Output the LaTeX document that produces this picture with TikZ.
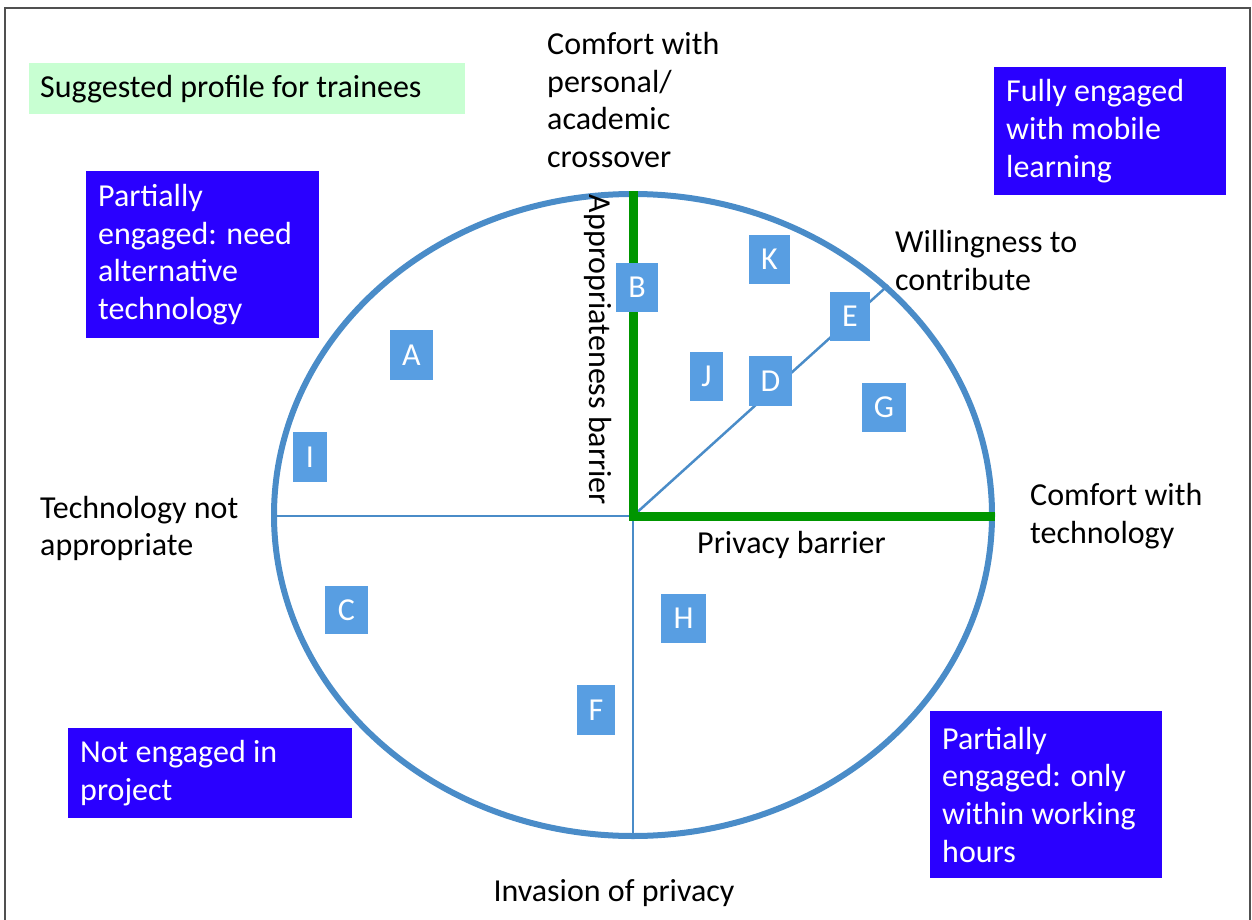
\documentclass[tikz,border=0pt]{standalone}
\usepackage{fontspec}
\setmainfont{Carlito}
\usetikzlibrary{shapes.geometric}
\definecolor{darkblue}{RGB}{42,0,255}
\definecolor{lblue}{RGB}{88,158,226}
\definecolor{ringblue}{RGB}{74,140,200}
\definecolor{bargreen}{RGB}{0,150,0}
\definecolor{palegreen}{RGB}{200,255,210}
\definecolor{framegray}{RGB}{80,80,80}
\begin{document}
\begin{tikzpicture}[x=1pt,y=-1pt,
  every node/.style={font=\fontsize{32}{37.7}\selectfont},
  lbox/.style={fill=lblue, text=white, inner sep=0pt, minimum height=49pt},
  dbox/.style={fill=darkblue, text=white, anchor=north west, align=flush left, inner xsep=12pt, inner ysep=0pt},
  lab/.style={anchor=west, align=flush left, inner sep=0pt, text=black},
  thin/.style={draw=ringblue, line width=2.5pt},
  barrier/.style={draw=bargreen, line width=9pt},
]
\useasboundingbox (0,0) rectangle (1252,920);
\draw[framegray, line width=1.5pt] (5,922) -- (5,8) -- (1250,8) -- (1250,922);

% ring and axes
\coordinate (O) at (633,516);
\node[ellipse, draw=ringblue, line width=6pt, minimum width=718pt, minimum height=642pt, inner sep=0pt] (ring) at (633,515) {};
\draw[thin] (ring.west |- O) -- (O);
\draw[thin] (O) -- (ring.south);
\draw[thin] (O) -- (ring.42);
\draw[barrier] (ring.north) -- (O) -- (ring.east |- O);

% letter boxes
\node[lbox, minimum width=43pt, minimum height=50pt] (A) at (411.5,355) {A};
\node[lbox, minimum width=42pt] (B) at (637,287.5) {B};
\node[lbox, minimum width=41pt] (K) at (769.5,259.5) {K};
\node[lbox, minimum width=40pt] (E) at (850,316.5) {E};
\node[lbox, minimum width=33pt] (J) at (706.5,376.5) {J};
\node[lbox, minimum width=43pt, minimum height=50pt] (D) at (770.5,381) {D};
\node[lbox, minimum width=44pt] (G) at (884,407.5) {G};
\node[lbox, minimum width=34pt, minimum height=50pt] (I) at (310,457) {I};
\node[lbox, minimum width=43pt, minimum height=48pt] (C) at (346.5,610) {C};
\node[lbox, minimum width=45pt] (H) at (683.5,618.5) {H};
\node[lbox, minimum width=38pt, minimum height=50pt] (F) at (596,710) {F};

% engagement boxes
\node[dbox, minimum width=233pt, minimum height=167pt, text width=209pt] (needalt) at (86,171) {Partially\\engaged: need\\alternative\\technology};
\node[dbox, minimum width=232pt, minimum height=128pt, text width=208pt] (fully) at (994,67) {Fully engaged\\with mobile\\learning};
\node[dbox, minimum width=284pt, minimum height=90pt, text width=260pt] (noteng) at (68,728) {Not engaged in\\project};
\node[dbox, minimum width=232pt, minimum height=167pt, text width=208pt] (workhrs) at (930,711) {Partially\\engaged: only\\within working\\hours};

% profile label
\node[fill=palegreen, anchor=north west, minimum width=436pt, minimum height=51pt, inner xsep=11pt, text width=414pt, align=flush left] (profile) at (29,63) {Suggested profile for trainees};

% axis labels
\node[lab] (crossover) at (547,100) {Comfort with\\personal/\\academic\\crossover};
\node[lab] (willing) at (895,260.5) {Willingness to\\contribute};
\node[lab] (comftech) at (1030,516) {Comfort with\\technology};
\node[lab] (notapp) at (40,528.5) {Technology not\\appropriate};
\node[lab] (privbar) at (697,545) {Privacy barrier};
\node[inner sep=0pt] (invasion) at (614,893) {Invasion of privacy};
\node[inner sep=0pt, rotate=-90] (appbar) at (598,350) {Appropriateness barrier};
\end{tikzpicture}
\end{document}
